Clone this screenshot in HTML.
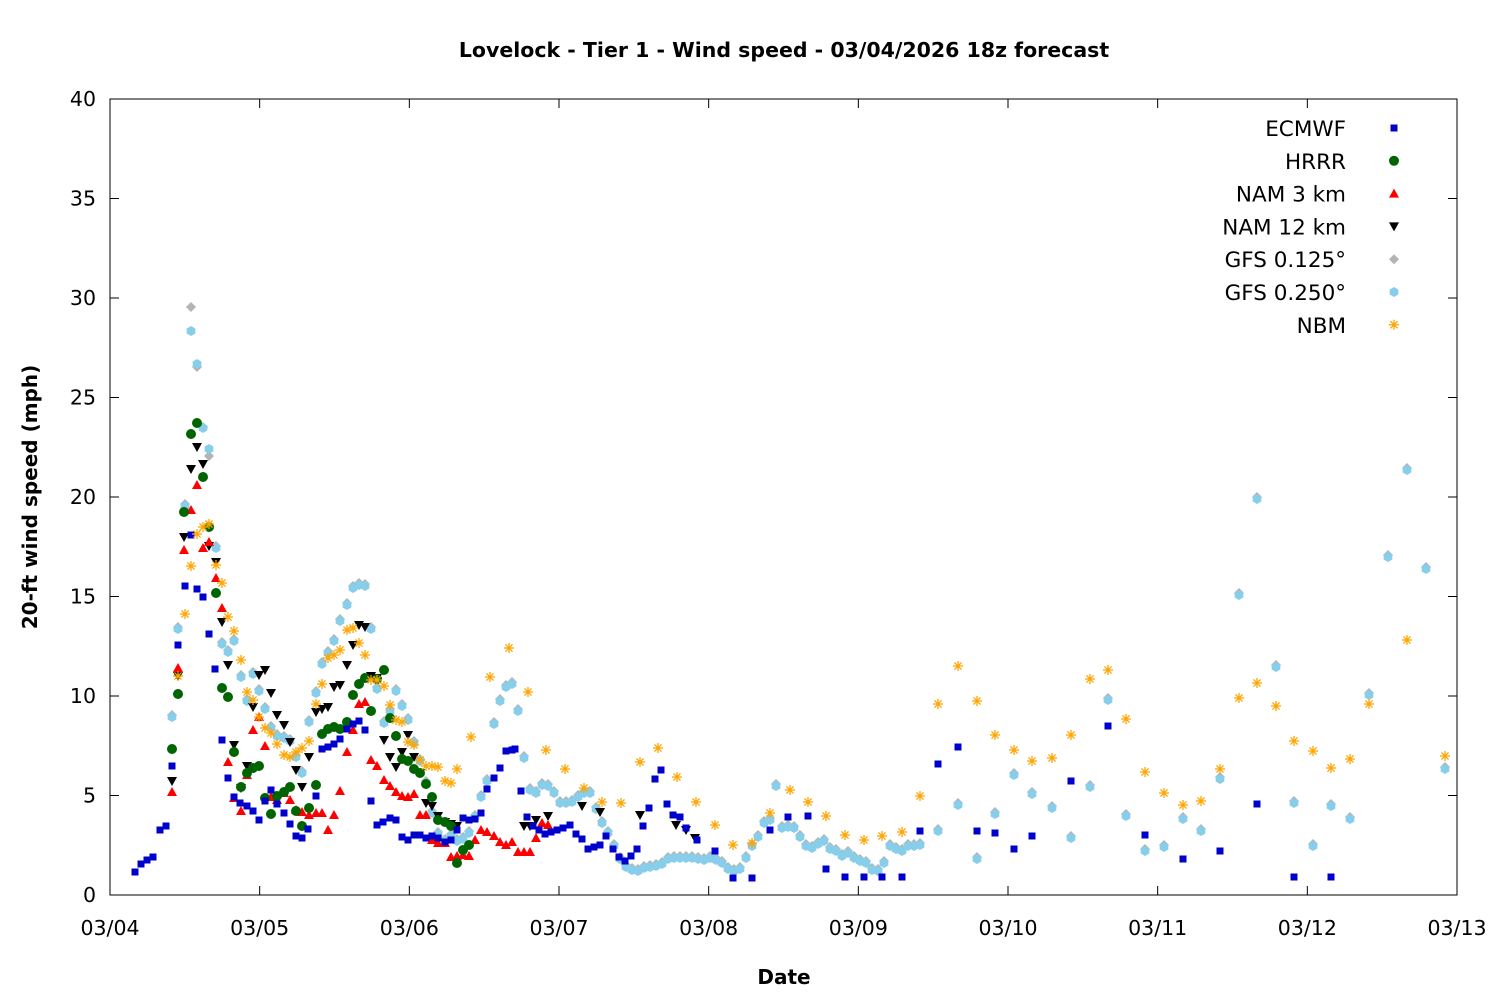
<!DOCTYPE html>
<html><head><meta charset="utf-8"><style>
body{margin:0;background:#fff}
svg text{font-family:"DejaVu Sans","Liberation Sans",sans-serif}
</style></head><body>
<svg id="s" width="1500" height="1000" xmlns="http://www.w3.org/2000/svg">
<rect width="1500" height="1000" fill="#fff"/>
<text x="784" y="57" text-anchor="middle" font-size="20.5" font-weight="bold">Lovelock - Tier 1 - Wind speed - 03/04/2026 18z forecast</text>
<text x="784" y="984" text-anchor="middle" font-size="20" font-weight="bold">Date</text>
<text transform="translate(37,497) rotate(-90)" text-anchor="middle" font-size="20" font-weight="bold">20-ft wind speed (mph)</text>
<g id="ax" stroke="#000" stroke-width="1" fill="none"></g>
<g id="pts"></g>
<g id="leg" font-size="21.5" text-anchor="end"></g>
</svg>
<script>
var NS="http://www.w3.org/2000/svg",s=document.getElementById('s');
function el(t,a,p){var e=document.createElementNS(NS,t);for(var k in a)e.setAttribute(k,a[k]);(p||s).appendChild(e);return e;}
var ax=document.getElementById('ax'),pts=document.getElementById('pts'),leg=document.getElementById('leg');
var L=110,R=1457,T=99,B=895;
el('rect',{x:L,y:T,width:R-L,height:B-T},ax);
for(var i=0;i<=8;i++){var y=B-i*(B-T)/8;
 el('line',{x1:L,y1:y,x2:L+9,y2:y},ax);el('line',{x1:R,y1:y,x2:R-9,y2:y},ax);
 var t=el('text',{x:96,y:y+7,'text-anchor':'end','font-size':20.5,fill:'#000',stroke:'none'});t.textContent=i*5;}
for(var d=0;d<=9;d++){var x=L+d*(R-L)/9;
 el('line',{x1:x,y1:B,x2:x,y2:B-9},ax);el('line',{x1:x,y1:T,x2:x,y2:T+9},ax);
 var t=el('text',{x:x,y:935,'text-anchor':'middle','font-size':20.5,fill:'#000',stroke:'none'});t.textContent='03/'+('0'+(4+d)).slice(-2);}
function sq(x,y,c,g){el('rect',{x:x-3.5,y:y-3.5,width:7,height:7,fill:c},g);}
function ci(x,y,c,g){el('circle',{cx:x,cy:y,r:5,fill:c},g);}
function up(x,y,c,g){el('polygon',{points:(x-5)+','+(y+4)+' '+(x+5)+','+(y+4)+' '+x+','+(y-5),fill:c},g);}
function dn(x,y,c,g){el('polygon',{points:(x-5)+','+(y-4)+' '+(x+5)+','+(y-4)+' '+x+','+(y+5),fill:c},g);}
function di(x,y,c,g){el('polygon',{points:x+','+(y-5)+' '+(x+5)+','+y+' '+x+','+(y+5)+' '+(x-5)+','+y,fill:c},g);}
function hx(x,y,c,g){var p=[];for(var k=0;k<6;k++){var a=Math.PI/3*k+Math.PI/6;p.push((x+5*Math.cos(a))+','+(y+5*Math.sin(a)));}el('polygon',{points:p.join(' '),fill:c},g);}
function st(x,y,c,g){for(var k=0;k<4;k++){var a=Math.PI/4*k;el('line',{x1:x-5*Math.cos(a),y1:y-5*Math.sin(a),x2:x+5*Math.cos(a),y2:y+5*Math.sin(a),stroke:c,'stroke-width':1.3},g);}}
function P(a){var r=[];for(var i=0;i<a.length;i+=2)r.push([a[i],a[i+1]]);return r;}
var gfs=P([172,716,178,628,185,505,191,308,197,368,203,428,209,457,216,547,222,643,228,651,234,640,241,676,247,700,253,673,259,690,265,708,271,727,277,735,284,737,290,740,296,756,302,772,309,721,316,692,322,663,328,652,334,640,340,620,347,604,353,587,359,584,365,585,371,628,377,688,384,722,390,710,396,690,402,705,408,719,414,742,420,760,426,782,432,812,438,833,445,840,451,835,457,840,463,838,469,832,475,816,481,796,487,780,494,723,500,700,506,686,512,683,518,710,524,757,530,789,536,792,542,784,548,785,554,792,560,802,566,802,572,801,578,796,584,792,590,792,596,808,602,822,608,832,614,845,620,858,626,866,632,869,638,870,644,867,650,866,656,865,662,863,668,858,674,857,680,857,686,857,692,857,698,858,704,859,710,857,716,859,722,862,728,868,734,870,740,868,746,857,752,845,758,836,764,822,770,819,776,785,782,827,788,826,794,827,800,836,806,845,812,847,818,843,824,840,830,848,836,850,842,855,848,852,854,857,860,860,866,862,872,869,878,870,884,862,890,845,896,848,902,850,908,845,914,845,920,844,938,830,958,804,977,858,995,813,1014,774,1032,793,1052,807,1071,837,1090,786,1108,699,1126,815,1145,850,1164,846,1183,818,1201,830,1220,778,1239,594,1257,498,1276,666,1294,802,1313,845,1331,805,1350,818,1369,694,1388,556,1407,469,1426,568,1445,768]);
gfs.forEach(function(p){di(p[0],p[1]-1,'#b4b4b4',pts);});
var off={191:23,197:-4,203:0,209:-8};
gfs.forEach(function(p){var dy=off[p[0]]!==undefined&&p[0]<215?off[p[0]]:1;hx(p[0],p[1]+dy,'#87ceeb',pts);});
P([172,781,178,676,184,537,191,469,197,447,203,464,209,546,216,562,222,622,228,665,234,745,241,788,247,766,253,707,259,675,265,670,271,693,277,715,284,725,290,742,296,770,302,787,309,757,316,712,322,709,328,707,334,687,340,685,347,665,353,645,359,625,365,627,371,676,377,678,384,740,390,757,396,767,402,752,408,735,414,757,420,773,426,803,432,806,438,816,445,822,451,824,457,826,524,826,530,826,536,820,548,816,582,806,600,812,640,815,676,825,686,830,695,838]).forEach(function(p){dn(p[0],p[1],'#000',pts);});
P([172,792,178,668,184,550,191,510,197,485,203,548,209,542,216,578,222,608,228,762,234,798,241,811,247,775,253,730,259,717,265,746,271,797,277,800,284,793,290,800,296,810,302,812,309,815,316,813,322,813,328,830,334,815,340,791,347,752,353,730,359,704,365,702,371,760,377,766,384,780,390,786,396,792,402,796,408,797,414,794,420,815,426,815,432,840,438,843,445,843,451,857,457,856,463,855,469,856,475,840,481,830,487,832,494,836,500,842,506,845,512,842,518,852,524,852,530,852,536,838,542,823,548,825]).forEach(function(p){up(p[0],p[1],'#f00',pts);});
P([172,749,178,694,184,512,191,434,197,423,203,477,209,527,216,593,222,688,228,697,234,752,241,787,247,773,253,768,259,766,265,798,271,814,277,796,284,792,290,787,296,811,302,826,309,808,316,785,322,734,328,729,334,727,340,729,347,722,353,695,359,684,365,678,371,711,377,679,384,670,390,718,396,736,402,759,408,761,414,769,420,773,426,784,432,797,438,820,445,822,451,826,457,863,463,850,469,845]).forEach(function(p){ci(p[0],p[1],'#006400',pts);});
P([135,872,141,864,147,860,153,857,160,830,166,826,172,766,178,645,185,586,191,535,197,589,203,597,209,634,215,669,222,740,228,778,234,797,240,803,247,806,253,811,259,820,265,801,271,790,277,804,284,813,290,824,296,836,302,838,308,829,316,796,322,749,328,747,334,744,340,739,347,729,353,724,359,721,365,730,371,801,377,825,383,822,390,818,396,820,402,837,408,840,414,835,420,835,426,838,432,836,438,838,445,842,451,840,457,830,463,818,469,820,475,819,481,813,487,789,494,778,500,768,506,751,512,750,515,749,521,791,527,817,533,826,539,830,545,834,551,832,557,830,563,828,570,825,576,834,582,839,588,849,594,847,600,845,606,836,613,849,619,857,625,861,631,856,637,849,643,826,649,808,655,779,661,770,667,804,673,815,680,817,686,828,697,840,715,851,733,878,752,878,770,830,788,817,808,816,826,869,845,877,864,877,882,877,902,877,920,831,938,764,958,747,977,831,995,833,1014,849,1032,836,1071,781,1108,726,1145,835,1183,859,1220,851,1257,804,1294,877,1331,877]).forEach(function(p){sq(p[0],p[1],'#0000cd',pts);});
P([178,676,185,614,191,566,197,534,203,527,209,524,216,565,222,583,228,617,234,631,241,660,247,692,253,700,259,717,265,728,271,733,277,744,284,755,290,757,296,752,302,748,309,741,316,704,322,684,328,658,334,655,340,650,347,630,353,628,359,643,365,655,371,680,377,680,384,686,390,705,396,720,402,722,408,742,414,745,420,760,426,766,432,766,438,767,445,781,451,783,457,769,471,737,490,677,509,648,528,692,546,750,565,769,584,788,602,802,621,803,640,762,658,748,677,777,696,802,715,825,733,845,752,843,770,813,790,790,808,802,826,816,845,835,864,840,882,836,902,832,920,796,938,704,958,666,977,701,995,735,1014,750,1032,761,1052,758,1071,735,1090,679,1108,670,1126,719,1145,772,1164,793,1183,805,1201,801,1220,769,1239,698,1257,683,1276,706,1294,741,1313,751,1331,768,1350,759,1369,704,1407,640,1445,756]).forEach(function(p){st(p[0],p[1],'#ffa500',pts);});
var names=['ECMWF','HRRR','NAM 3 km','NAM 12 km','GFS 0.125°','GFS 0.250°','NBM'],fns=[sq,ci,up,dn,di,hx,st],cols=['#0000cd','#006400','#f00','#000','#b4b4b4','#87ceeb','#ffa500'];
for(var i=0;i<7;i++){var y=128+i*32.8;var t=el('text',{x:1346,y:y+8},leg);t.textContent=names[i];fns[i](1394,y,cols[i],leg);}
</script>
</body></html>
